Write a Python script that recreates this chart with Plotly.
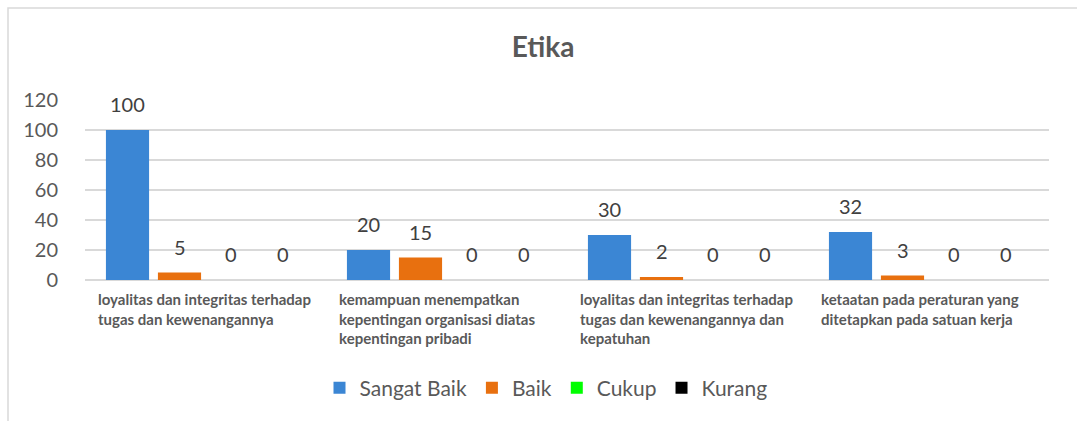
import plotly.graph_objects as go

categories = [
    "loyalitas dan integritas terhadap<br>tugas dan kewenangannya",
    "kemampuan menempatkan<br>kepentingan organisasi diatas<br>kepentingan pribadi",
    "loyalitas dan integritas terhadap<br>tugas dan kewenangannya dan<br>kepatuhan",
    "ketaatan pada peraturan yang<br>ditetapkan pada satuan kerja",
]
series_names = ["Sangat Baik", "Baik", "Cukup", "Kurang"]
sangat_baik = [100, 20, 30, 32]
baik = [5, 15, 2, 3]
cukup = [0, 0, 0, 0]
kurang = [0, 0, 0, 0]
y_ticks = [0, 20, 40, 60, 80, 100, 120]

series_values = [sangat_baik, baik, cukup, kurang]
colors = ["#3B86D4", "#E8700F", "#00FF00", "#000000"]
cat_ids = [f"c{i}" for i in range(len(categories))]

W, H = 1077, 421
ML, MR, MT, MB = 85, 28, 100, 141
plot_w = W - ML - MR
cat_w = plot_w / len(categories)
bargap = 0.137
slot = cat_w * (1 - bargap) / len(series_names)

fig = go.Figure()
for name, vals, col in zip(series_names, series_values, colors):
    fig.add_trace(go.Bar(name=name, x=cat_ids, y=vals, marker=dict(color=col, line=dict(width=0))))

annotations = []
txt = "#404040"
for i, vals in enumerate(series_values):
    for j, v in enumerate(vals):
        annotations.append(dict(
            x=cat_ids[j], y=v, xref="x", yref="y", text=str(v), showarrow=False,
            xshift=(i - 1.5) * slot, yshift=26, yanchor="middle", xanchor="center",
            font=dict(family="Lato", size=20, color=txt)))
for j, c in enumerate(categories):
    annotations.append(dict(
        x=cat_ids[j], y=0, xref="x", yref="paper", text=c, showarrow=False,
        xanchor="left", yanchor="top", align="left", xshift=-cat_w / 2 + 11, yshift=-8,
        font=dict(family="Lato", size=15, color="#595959", weight="bold")))

plot_h = H - MT - MB
fig.add_shape(type="rect", xref="paper", yref="paper",
              x0=(8 - ML) / plot_w, x1=(W + 10 - ML) / plot_w,
              y0=-(H + 10 - MT - plot_h) / plot_h, y1=(H - 8 - MB) / plot_h,
              line=dict(color="#D9D9D9", width=1.5), layer="below")

fig.update_layout(
    width=W, height=H,
    margin=dict(l=ML, r=MR, t=MT, b=MB, autoexpand=False),
    paper_bgcolor="white", plot_bgcolor="white",
    barmode="group", bargap=bargap, bargroupgap=0.17,
    title=dict(text="<b>Etika</b>", x=543 / W, xref="container", xanchor="center",
               y=1 - 47 / H, yref="container", yanchor="middle",
               font=dict(family="Lato", size=28, color="#595959")),
    xaxis=dict(showticklabels=False, showgrid=False, zeroline=False, showline=False),
    yaxis=dict(range=[0, 120], tickvals=y_ticks, showgrid=True, gridcolor="#D9D9D9", gridwidth=1.5,
               zeroline=True, zerolinecolor="#D9D9D9", zerolinewidth=1.5,
               ticks="outside", ticklen=22, tickcolor="rgba(0,0,0,0)",
               tickfont=dict(family="Lato", size=20, color="#595959")),
    legend=dict(orientation="h", x=(546 - ML) / plot_w, xanchor="center",
                y=-(388 - (H - MB)) / plot_h, yanchor="middle",
                font=dict(family="Lato", size=21, color="#595959"), itemwidth=30,
                traceorder="normal"),
    annotations=annotations,
    showlegend=True,
)
fig.write_html("out.html", config={"displayModeBar": False},
               post_script="document.body.style.margin='0';document.body.style.overflow='hidden';")
